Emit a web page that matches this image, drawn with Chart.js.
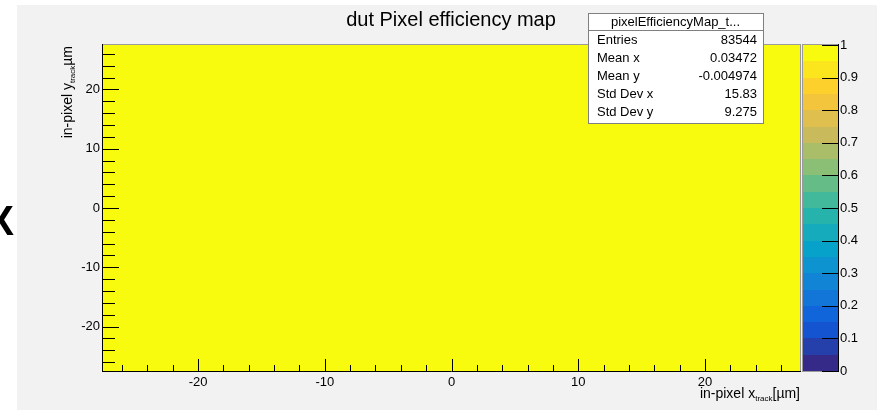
<!DOCTYPE html>
<html>
<head>
<meta charset="utf-8">
<script src="https://cdn.jsdelivr.net/npm/chart.js@4.4.1/dist/chart.umd.min.js"></script>
<style>
  html, body { margin: 0; padding: 0; background: #ffffff; overflow: hidden; }
  canvas { display: block; }
</style>
</head>
<body>
<canvas id="map" width="877" height="410"></canvas>
<script>
// In-pixel efficiency map: bin edges (µm) and efficiency per bin [row=y][col=x]
const xBinEdges = [-27.5, 27.5];
const yBinEdges = [-27.5, 27.5];
const efficiency = [[1.0]];

// Axis ticks
const xTickLabels = [-20, -10, 0, 10, 20];
const yTickLabels = [-20, -10, 0, 10, 20];
const xMinorTicks = [-26, -24, -22, -18, -16, -14, -12, -8, -6, -4, -2, 2, 4, 6, 8, 12, 14, 16, 18, 22, 24, 26];
const yMinorTicks = [-26, -24, -22, -18, -16, -14, -12, -8, -6, -4, -2, 2, 4, 6, 8, 12, 14, 16, 18, 22, 24, 26];
const zTickLabels = [0, 0.1, 0.2, 0.3, 0.4, 0.5, 0.6, 0.7, 0.8, 0.9, 1];

// Statistics box
const statsTitle = "pixelEfficiencyMap_t...";
const statsNames = ["Entries", "Mean x", "Mean y", "Std Dev x", "Std Dev y"];
const statsValues = ["83544", "0.03472", "-0.004974", "15.83", "9.275"];

const FONT = '"Liberation Sans", Arial, Helvetica, sans-serif';
const N_LEVELS = 20;

// ROOT "bird" palette stops
const birdStops = [0.0, 0.125, 0.25, 0.375, 0.5, 0.625, 0.75, 0.875, 1.0];
const birdR = [0.2082, 0.0592, 0.0780, 0.0232, 0.1802, 0.5301, 0.8186, 0.9956, 0.9764];
const birdG = [0.1664, 0.3599, 0.5041, 0.6419, 0.7178, 0.7492, 0.7328, 0.7862, 0.9832];
const birdB = [0.5293, 0.8684, 0.8385, 0.7914, 0.6425, 0.4662, 0.3499, 0.1968, 0.0539];

function birdColor(t) {
  t = Math.max(0, Math.min(1, t));
  let i = 0;
  while (i < birdStops.length - 2 && t > birdStops[i + 1]) i++;
  const f = (t - birdStops[i]) / (birdStops[i + 1] - birdStops[i]);
  const c = a => Math.round(255 * (a[i] + f * (a[i + 1] - a[i])));
  return `rgb(${c(birdR)},${c(birdG)},${c(birdB)})`;
}
function levelColor(v) {
  const k = Math.min(N_LEVELS - 1, Math.floor(v * N_LEVELS + 1e-9));
  return birdColor(k / (N_LEVELS - 1));
}

function hline(ctx, x1, x2, y) {
  ctx.beginPath(); ctx.moveTo(x1, Math.round(y) + 0.5); ctx.lineTo(x2, Math.round(y) + 0.5); ctx.stroke();
}
function vline(ctx, x, y1, y2) {
  ctx.beginPath(); ctx.moveTo(Math.round(x) + 0.5, y1); ctx.lineTo(Math.round(x) + 0.5, y2); ctx.stroke();
}

const rootStyle = {
  id: 'rootStyle',
  beforeDraw(chart) {
    const ctx = chart.ctx;
    ctx.save();
    ctx.fillStyle = '#ffffff';
    ctx.fillRect(0, 0, chart.width, chart.height);
    ctx.fillStyle = '#f2f2f2';
    ctx.fillRect(17, 5, chart.width - 17, chart.height - 5);
    // partial glyph at the left margin
    ctx.fillStyle = '#000000';
    ctx.font = 'bold 42px ' + FONT;
    ctx.textAlign = 'center';
    ctx.textBaseline = 'alphabetic';
    ctx.fillText('X', 0, 235);
    ctx.restore();
  },
  beforeDatasetsDraw(chart) {
    const ctx = chart.ctx;
    const xs = chart.scales.x, ys = chart.scales.y;
    ctx.save();
    for (let j = 0; j < yBinEdges.length - 1; j++) {
      for (let i = 0; i < xBinEdges.length - 1; i++) {
        const x0 = xs.getPixelForValue(xBinEdges[i]);
        const x1 = xs.getPixelForValue(xBinEdges[i + 1]);
        const y0 = ys.getPixelForValue(yBinEdges[j + 1]);
        const y1 = ys.getPixelForValue(yBinEdges[j]);
        ctx.fillStyle = levelColor(efficiency[j][i]);
        ctx.fillRect(x0, y0, x1 - x0, y1 - y0);
      }
    }
    ctx.restore();
  },
  afterDraw(chart) {
    const ctx = chart.ctx;
    const a = chart.chartArea;
    const xs = chart.scales.x, ys = chart.scales.y, zs = chart.scales.z;
    ctx.save();
    ctx.lineWidth = 1;

    // plot frame
    ctx.strokeStyle = '#9a9a9a';
    hline(ctx, a.left, a.right + 1, a.top - 1);
    vline(ctx, a.right, a.top - 1, a.bottom);
    ctx.strokeStyle = '#000000';
    vline(ctx, a.left - 1, a.top - 1, a.bottom + 1);
    hline(ctx, a.left - 1, a.right + 1, a.bottom);

    // ticks drawn inward
    ctx.strokeStyle = '#000000';
    xTickLabels.forEach(v => vline(ctx, xs.getPixelForValue(v), a.bottom - 12, a.bottom));
    xMinorTicks.forEach(v => vline(ctx, xs.getPixelForValue(v), a.bottom - 6, a.bottom));
    yTickLabels.forEach(v => hline(ctx, a.left, a.left + 16, ys.getPixelForValue(v)));
    yMinorTicks.forEach(v => hline(ctx, a.left, a.left + 12, ys.getPixelForValue(v)));

    // colour bar
    const cbL = a.right + 3, cbR = a.right + 38;
    for (let k = 0; k < N_LEVELS; k++) {
      const yTop = zs.getPixelForValue((k + 1) / N_LEVELS);
      const yBot = zs.getPixelForValue(k / N_LEVELS);
      ctx.fillStyle = birdColor(k / (N_LEVELS - 1));
      ctx.fillRect(cbL, Math.round(yTop), cbR - cbL, Math.round(yBot) - Math.round(yTop));
    }
    ctx.strokeStyle = '#9a9a9a';
    hline(ctx, cbL, cbR, a.top - 1);
    vline(ctx, cbL - 1, a.top - 1, a.bottom + 1);
    hline(ctx, cbL - 1, cbR, a.bottom);
    ctx.strokeStyle = '#000000';
    vline(ctx, cbR, a.top - 1, a.bottom + 1);
    zTickLabels.forEach(v => hline(ctx, cbR - 16, cbR, zs.getPixelForValue(v)));

    // title
    ctx.fillStyle = '#000000';
    ctx.font = '20px ' + FONT;
    ctx.textAlign = 'center';
    ctx.textBaseline = 'alphabetic';
    ctx.fillText('dut Pixel efficiency map', 451, 26);

    // x axis title, right-aligned to the frame
    const xMain = 'in-pixel x', xSub = 'track', xTail = '[µm]';
    ctx.font = '14px ' + FONT;
    const wMain = ctx.measureText(xMain).width;
    const wTail = ctx.measureText(xTail).width;
    ctx.font = '8px ' + FONT;
    const wSub = ctx.measureText(xSub).width;
    let xt = a.right - (wMain + wSub + wTail);
    const yb = 398;
    ctx.textAlign = 'left';
    ctx.font = '14px ' + FONT;
    ctx.fillText(xMain, xt, yb);
    ctx.font = '8px ' + FONT;
    ctx.fillText(xSub, xt + wMain, yb + 3);
    ctx.font = '14px ' + FONT;
    ctx.fillText(xTail, xt + wMain + wSub, yb);

    // y axis title, rotated, ending at the top of the frame
    const yMain = 'in-pixel y', ySub = 'track', yTail = 'µm';
    ctx.font = '14px ' + FONT;
    const vMain = ctx.measureText(yMain).width;
    const vTail = ctx.measureText(yTail).width;
    ctx.font = '8px ' + FONT;
    const vSub = ctx.measureText(ySub).width;
    ctx.save();
    ctx.translate(72, a.top + 1);
    ctx.rotate(-Math.PI / 2);
    let yt = -(vMain + vSub + vTail);
    ctx.font = '14px ' + FONT;
    ctx.fillText(yMain, yt, 0);
    ctx.font = '8px ' + FONT;
    ctx.fillText(ySub, yt + vMain, 3);
    ctx.font = '14px ' + FONT;
    ctx.fillText(yTail, yt + vMain + vSub, 0);
    ctx.restore();

    // statistics box
    const bx = 588, by = 13, bw = 175, headH = 17, rowH = 18;
    const bh = headH + rowH * statsNames.length + 3;
    ctx.fillStyle = '#ffffff';
    ctx.fillRect(bx, by, bw, bh);
    ctx.strokeStyle = '#808080';
    ctx.strokeRect(bx + 0.5, by + 0.5, bw, bh);
    hline(ctx, bx, bx + bw, by + headH);
    ctx.fillStyle = '#000000';
    ctx.font = '13px ' + FONT;
    ctx.textAlign = 'center';
    ctx.fillText(statsTitle, bx + bw / 2, by + 13);
    statsNames.forEach((n, i) => {
      const yy = by + headH + rowH * i + 14;
      ctx.textAlign = 'left';
      ctx.fillText(n, bx + 9, yy);
      ctx.textAlign = 'right';
      ctx.fillText(statsValues[i], bx + bw - 6, yy);
    });
    ctx.restore();
  }
};

function fixedTicks(values) {
  return scale => { scale.ticks = values.map(v => ({ value: v })); };
}
function noPadding(s) {
  s.paddingTop = 0; s.paddingBottom = 0; s.paddingLeft = 0; s.paddingRight = 0;
}

new Chart(document.getElementById('map'), {
  type: 'scatter',
  data: { datasets: [{ data: [], pointRadius: 0 }] },
  options: {
    responsive: false,
    animation: false,
    events: [],
    layout: { padding: { top: 45, left: 0, right: 0, bottom: 0 } },
    plugins: { legend: { display: false }, tooltip: { enabled: false }, title: { display: false } },
    scales: {
      x: {
        type: 'linear', position: 'bottom', min: xBinEdges[0], max: xBinEdges[xBinEdges.length - 1],
        afterBuildTicks: fixedTicks(xTickLabels),
        afterFit: s => { s.height = 39; noPadding(s); },
        grid: { display: false, drawTicks: false }, border: { display: false },
        ticks: { color: '#000', font: { family: FONT, size: 13 }, padding: 4, maxRotation: 0, autoSkip: false,
                 callback: v => String(v) }
      },
      y: {
        type: 'linear', position: 'left', min: yBinEdges[0], max: yBinEdges[yBinEdges.length - 1],
        afterBuildTicks: fixedTicks(yTickLabels),
        afterFit: s => { s.width = 103; noPadding(s); },
        grid: { display: false, drawTicks: false }, border: { display: false },
        ticks: { color: '#000', font: { family: FONT, size: 13 }, padding: 3, autoSkip: false,
                 callback: v => String(v) }
      },
      z: {
        type: 'linear', position: 'right', axis: 'y', min: 0, max: 1,
        afterBuildTicks: fixedTicks(zTickLabels),
        afterFit: s => { s.width = 77; noPadding(s); },
        grid: { display: false, drawTicks: false }, border: { display: false },
        ticks: { color: '#000', font: { family: FONT, size: 13 }, padding: 40, autoSkip: false,
                 callback: v => String(v) }
      }
    }
  },
  plugins: [rootStyle]
});
</script>
</body>
</html>
